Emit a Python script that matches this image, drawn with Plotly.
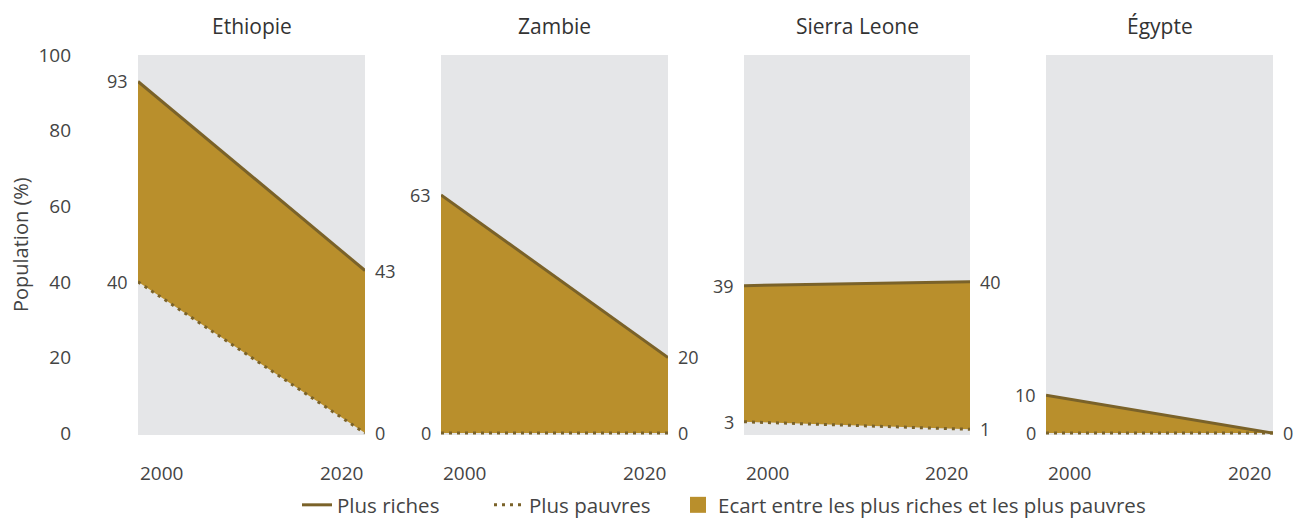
import plotly.graph_objects as go

# ---------------- data ----------------
countries = ["Ethiopie", "Zambie", "Sierra Leone", "Égypte"]
years = [2000, 2020]
richest = [[93, 43], [63, 20], [39, 40], [10, 0]]
poorest = [[40, 0], [0, 0], [3, 1], [0, 0]]
y_ticks = [0, 20, 40, 60, 80, 100]
x_tick_labels = ["2000", "2020"]
legend_names = ["Plus riches", "Plus pauvres",
                "Ecart entre les plus riches et les plus pauvres"]
y_title = "Population (%)"

# ---------------- style ----------------
W, H = 1295, 525
GOLD = "#B98F2C"
LINE = "#7A6229"
BG = "#E5E6E8"
TEXT = "#444444"
FONT = "Open Sans"
panels_px = [(138, 365), (441, 668), (744, 970), (1046, 1273)]
top_px, bottom_px = 55, 435
legend_text_px = [338, 530, 719]

fig = go.Figure()
layout = {}
annotations = []

for i, country in enumerate(countries):
    sfx = "" if i == 0 else str(i + 1)
    xa, ya = "x" + sfx, "y" + sfx
    x0, x1 = panels_px[i]
    fig.add_trace(go.Scatter(
        x=years, y=poorest[i], xaxis=xa, yaxis=ya, mode="lines",
        line=dict(color=LINE, width=3, dash="3px,5px"),
        showlegend=False, hoverinfo="skip"))
    fig.add_trace(go.Scatter(
        x=years, y=richest[i], xaxis=xa, yaxis=ya, mode="lines",
        line=dict(color=LINE, width=3), fill="tonexty", fillcolor=GOLD,
        showlegend=False, hoverinfo="skip"))
    layout["xaxis" + sfx] = dict(
        domain=[x0 / W, x1 / W], range=[years[0], years[-1]],
        showticklabels=False, showgrid=False, zeroline=False, showline=False,
        ticks="", anchor=ya, fixedrange=True, automargin=False)
    layout["yaxis" + sfx] = dict(
        domain=[(H - bottom_px) / H, (H - top_px) / H], range=[-0.5, 100],
        showgrid=False, zeroline=False, showline=False, ticks="",
        tickvals=y_ticks, showticklabels=(i == 0), ticklabelstandoff=66,
        tickfont=dict(family=FONT, size=19, color=TEXT),
        anchor=xa, fixedrange=True, automargin=False)

    # panel title
    annotations.append(dict(
        text=country, xref="paper", yref="paper", x=(x0 + x1) / 2 / W,
        y=(H - 26) / H, xanchor="center", yanchor="middle", showarrow=False,
        font=dict(family=FONT, size=21, color="#333333")))

    # x tick labels aligned to panel edges
    for j, lab in enumerate(x_tick_labels):
        annotations.append(dict(
            text=lab, xref=xa, yref=ya, x=years[j], y=0,
            xanchor="left" if j == 0 else "right", yanchor="top",
            yshift=-25, showarrow=False,
            font=dict(family=FONT, size=19, color=TEXT)))

    # value labels
    for j, side in enumerate(["right", "left"]):
        vals = [richest[i][0], poorest[i][0]] if j == 0 else [richest[i][-1], poorest[i][-1]]
        shown = []
        for v in vals:
            if v in shown:
                continue
            shown.append(v)
            annotations.append(dict(
                text=str(v), xref=xa, yref=ya,
                x=years[0] if j == 0 else years[-1], y=v,
                xanchor=side, yanchor="middle", xshift=-8 if j == 0 else 8,
                showarrow=False, font=dict(family=FONT, size=18, color=TEXT)))

# y axis title
annotations.append(dict(
    text=y_title, xref="paper", yref="paper", x=20 / W,
    y=(H - (top_px + bottom_px) / 2) / H, textangle=-90,
    xanchor="center", yanchor="middle", showarrow=False,
    font=dict(family=FONT, size=20, color=TEXT)))

# legend entries (one legend per entry to match spacing)
fig.add_trace(go.Scatter(x=[None], y=[None], mode="lines", name=legend_names[0],
                         line=dict(color=LINE, width=3), legend="legend"))
fig.add_trace(go.Scatter(x=[None], y=[None], mode="lines", name=legend_names[1],
                         line=dict(color=LINE, width=3, dash="3px,5px"),
                         legend="legend2"))
fig.add_trace(go.Scatter(x=[None], y=[None], mode="markers", name=legend_names[2],
                         marker=dict(color=GOLD, symbol="square", size=22),
                         legend="legend3"))

legend_common = dict(orientation="h", xanchor="left", y=0,
                     yanchor="bottom", traceorder="normal",
                     font=dict(family=FONT, size=20.5, color=TEXT),
                     itemsizing="trace", bgcolor="rgba(0,0,0,0)")
for k, key in enumerate(["legend", "legend2", "legend3"]):
    layout[key] = dict(legend_common, x=(legend_text_px[k] - 41) / W)

fig.update_layout(
    **layout,
    width=W, height=H,
    margin=dict(l=0, r=0, t=0, b=0, autoexpand=False),
    paper_bgcolor="white", plot_bgcolor=BG,
    annotations=annotations,
    showlegend=True,
    font=dict(family=FONT, color=TEXT),
)

fig.write_html("out.html", config={"displayModeBar": False},
               post_script="document.body.style.margin='0';document.body.style.overflow='hidden';")
